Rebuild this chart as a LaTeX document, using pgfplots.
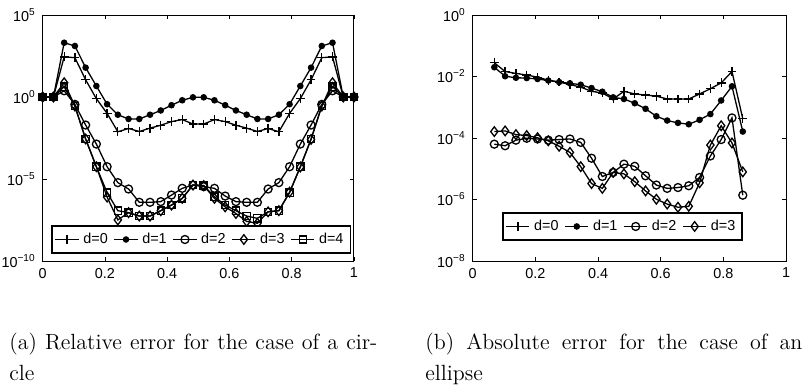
\documentclass[border=0pt]{standalone}
\usepackage{fontspec}
\usepackage{pgfplots}
\pgfplotsset{compat=1.18}
\usepackage{pgfplotstable}
\newfontfamily\hv{Liberation Sans}

\pgfplotstableread{
x        d0      d1      d2      d3      d4
0        1       1       1       1       1
0.03448  1       1       1       1       1
0.06897  2.8e2   2.04e3  2.4     7.4     4.27
0.10345  2.5e2   1.29e3  0.355   0.28    0.28
0.13793  11.2    61.7    1.95e-2 2.75e-3 2.75e-3
0.17241  0.79    4.68    1.35e-3 5.6e-5  5.6e-5
0.2069   0.1     0.363   5.6e-5  7.9e-7  1.48e-6
0.24138  7.6e-3  8.3e-2  6.0e-6  3.2e-8  1.17e-7
0.27586  1.2e-2  4.57e-2 2.45e-6 8.9e-8  8.9e-8
0.31034  7.9e-3  4.57e-2 3.8e-7  5.5e-8  5.5e-8
0.34483  1.26e-2 8.3e-2  3.8e-7  5.5e-8  5.5e-8
0.37931  1.9e-2  0.151   4.17e-7 1.17e-7 1.17e-7
0.41379  3.16e-2 0.316   1.05e-6 2.57e-7 2.57e-7
0.44828  4.2e-2  0.631   2.7e-6  6.6e-7  6.6e-7
0.48276  2.24e-2 0.955   4.27e-6 4.27e-6 4.27e-6
0.51724  2.24e-2 0.955   3.4e-6  4.0e-6  4.0e-6
0.55172  4.2e-2  0.631   2.7e-6  6.6e-7  8.3e-7
0.58621  3.16e-2 0.316   9.1e-7  2.0e-7  2.57e-7
0.62069  1.9e-2  0.151   4.17e-7 7.9e-8  1.17e-7
0.65517  1.26e-2 8.3e-2  3.8e-7  2.6e-8  5.5e-8
0.68966  7.9e-3  4.57e-2 3.8e-7  2.0e-8  4.0e-8
0.72414  1.2e-2  4.57e-2 2.45e-6 1.0e-7  1.0e-7
0.75862  7.6e-3  8.3e-2  6.0e-6  1.17e-7 1.17e-7
0.7931   0.1     0.363   5.6e-5  1.58e-6 1.48e-6
0.82759  0.79    4.68    1.35e-3 5.4e-5  5.6e-5
0.86207  11.2    61.7    1.95e-2 2.6e-3  2.75e-3
0.89655  2.5e2   1.29e3  0.355   0.28    0.28
0.93103  2.8e2   2.04e3  2.4     7.4     4.27
0.96552  1       1       1       1       1
1        1       1       1       1       1
}\circdata

\pgfplotstableread{
x        d0      d1      d2      d3
0.06897  2.8e-2  2.0e-2  6.3e-5  1.62e-4
0.10345  1.45e-2 1.02e-2 5.6e-5  1.7e-4
0.13793  1.26e-2 9.1e-3  8.5e-5  1.29e-4
0.17241  1.12e-2 8.9e-3  9.8e-5  1.2e-4
0.2069   9.5e-3  8.3e-3  9.3e-5  1.02e-4
0.24138  7.6e-3  7.4e-3  8.5e-5  8.1e-5
0.27586  6.6e-3  6.6e-3  8.9e-5  5.4e-5
0.31034  5.5e-3  6.0e-3  9.3e-5  3.4e-5
0.34483  4.5e-3  5.4e-3  7.2e-5  1.17e-5
0.37931  3.3e-3  4.2e-3  2.2e-5  3.3e-6
0.41379  2.9e-3  3.2e-3  5.6e-6  2.3e-6
0.44828  1.86e-3 2.1e-3  7.6e-6  7.6e-6
0.48276  3.3e-3  1.86e-3 1.41e-5 6.8e-6
0.51724  2.7e-3  1.35e-3 1.2e-5  3.8e-6
0.55172  2.5e-3  8.9e-4  5.9e-6  1.9e-6
0.58621  2.3e-3  5.1e-4  2.95e-6 1.02e-6
0.62069  1.86e-3 3.7e-4  2.3e-6  7.1e-7
0.65517  1.86e-3 3.1e-4  2.45e-6 5.6e-7
0.68966  1.86e-3 2.8e-4  2.8e-6  6.0e-7
0.72414  2.7e-3  3.9e-4  5.2e-6  3.5e-6
0.75862  4.0e-3  6.0e-4  2.6e-5  5.9e-5
0.7931   6.2e-3  1.66e-3 8.9e-5  2.5e-4
0.82759  1.45e-2 4.8e-3  4.5e-4  6.9e-5
0.86207  4.2e-4  1.62e-4 1.38e-6 7.9e-6
}\elldata

\pgfplotsset{
  matlab/.style={
    scale only axis,
    height=123pt,
    axis line style={line width=0.5pt},
    tick align=inside,
    major tick length=2pt,
    tick style={line width=0.4pt, black},
    ticklabel style={font=\hv\fontsize{7.2}{8}\selectfont},
    xmin=0, xmax=1,
    xtick={0,0.2,0.4,0.6,0.8,1},
    xticklabels={0,0.2,0.4,0.6,0.8,1},
    yminorticks=false,
    legend columns=-1,
    legend style={font=\hv\fontsize{7.2}{8}\selectfont, draw=black, line width=0.9pt,
      inner xsep=1.5pt, inner ysep=1.5pt,
      /tikz/every even column/.append style={column sep=1pt}},
    legend image code/.code={\draw[mark repeat=2,mark phase=2] plot coordinates {(0pt,0pt) (5.8pt,0pt) (11.6pt,0pt)};},
    every axis plot/.append style={black, line width=0.65pt},
  },
  p0/.style={mark=+, mark size=2.2pt},
  p1/.style={mark=*, mark size=1.3pt, mark options={fill=black}},
  p2/.style={mark=o, mark size=2pt, mark options={fill=white}},
  p3/.style={mark=diamond, mark size=2.4pt, mark options={fill=white}},
  p4/.style={mark=square, mark size=1.8pt, mark options={fill=white}},
}

\begin{document}
\begin{tikzpicture}
\useasboundingbox (0,0) rectangle (402pt,193pt);
\begin{semilogyaxis}[matlab, at={(21.35pt,62.5pt)}, anchor=south west, width=155.65pt,
  ymin=1e-10, ymax=1e5,
  ytick={1e-10,1e-5,1,1e5},
  yticklabels={10\textsuperscript{−10},10\textsuperscript{−5},10\textsuperscript{0},10\textsuperscript{5}},
  legend style={at={(0.509,0.028)}, anchor=south}]
\addplot[p0] table[x=x,y=d0]{\circdata}; \addlegendentry{d=0}
\addplot[p1] table[x=x,y=d1]{\circdata}; \addlegendentry{d=1}
\addplot[p2] table[x=x,y=d2]{\circdata}; \addlegendentry{d=2}
\addplot[p3] table[x=x,y=d3]{\circdata}; \addlegendentry{d=3}
\addplot[p4] table[x=x,y=d4]{\circdata}; \addlegendentry{d=4}
\end{semilogyaxis}
\begin{semilogyaxis}[matlab, at={(236.35pt,62.5pt)}, anchor=south west, width=156.65pt,
  ymin=1e-8, ymax=1,
  ytick={1e-8,1e-6,1e-4,1e-2,1},
  yticklabels={10\textsuperscript{−8},10\textsuperscript{−6},10\textsuperscript{−4},10\textsuperscript{−2},10\textsuperscript{0}},
  legend style={at={(0.478,0.081)}, anchor=south}]
\addplot[p0] table[x=x,y=d0]{\elldata}; \addlegendentry{d=0}
\addplot[p1] table[x=x,y=d1]{\elldata}; \addlegendentry{d=1}
\addplot[p2] table[x=x,y=d2]{\elldata}; \addlegendentry{d=2}
\addplot[p3] table[x=x,y=d3]{\elldata}; \addlegendentry{d=3}
\end{semilogyaxis}
\node[anchor=base west, inner sep=0pt, font=\fontsize{11}{13}\selectfont] at (4.5pt,18pt) {\makebox[184pt][s]{(a) Relative error for the case of a cir-}};
\node[anchor=base west, inner sep=0pt, font=\fontsize{11}{13}\selectfont] at (4.5pt,2.5pt) {cle};
\node[anchor=base west, inner sep=0pt, font=\fontsize{11}{13}\selectfont] at (212.5pt,18pt) {\makebox[188.5pt][s]{(b) Absolute error for the case of an}};
\node[anchor=base west, inner sep=0pt, font=\fontsize{11}{13}\selectfont] at (212.5pt,2.5pt) {ellipse};
\end{tikzpicture}
\end{document}
